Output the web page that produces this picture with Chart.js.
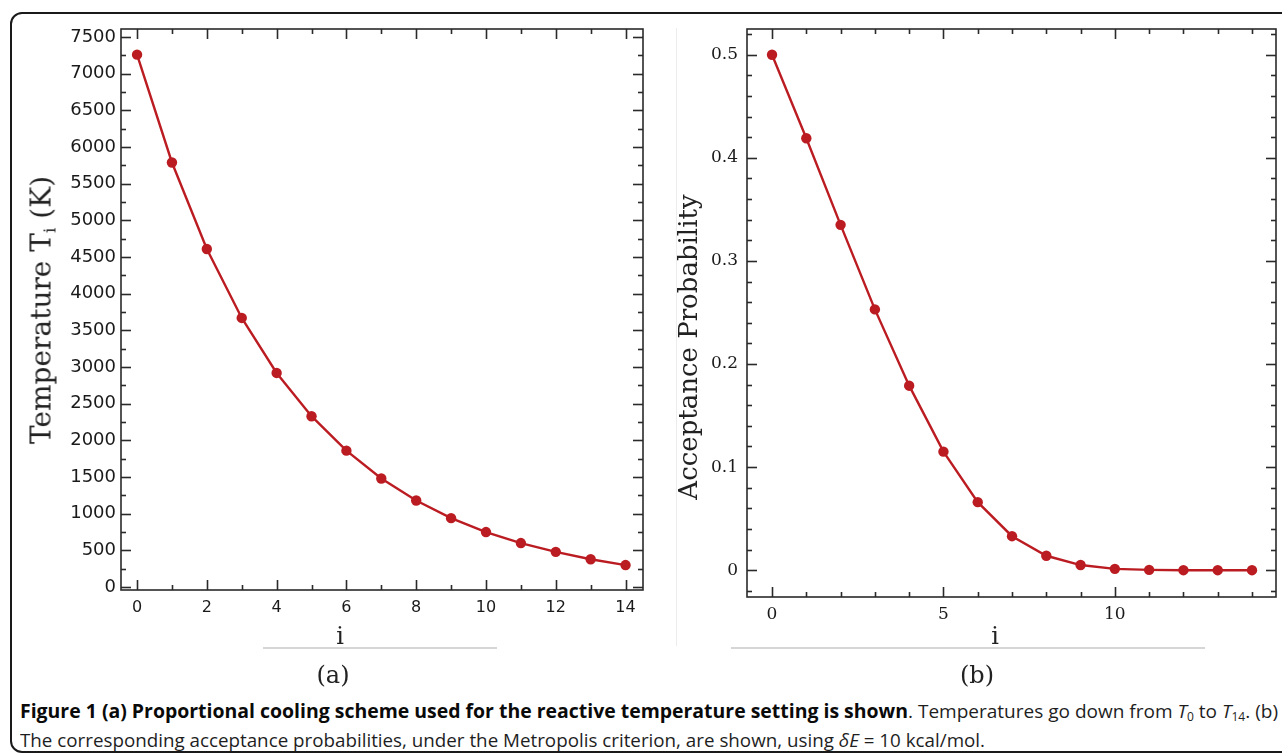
<!DOCTYPE html>
<html><head><meta charset="utf-8">
<script src="https://cdn.jsdelivr.net/npm/chart.js@4.4.0/dist/chart.umd.min.js"></script>
<style>
html,body{margin:0;padding:0;background:#fff;width:1282px;height:755px;overflow:hidden;position:relative;}
#frame{position:absolute;left:10px;top:12px;width:1320px;height:741px;border:2px solid #1a1a1a;border-radius:12px;box-sizing:border-box;}
canvas{position:absolute;}
.lbl{position:absolute;transform:translate(-50%,-50%);white-space:nowrap;font-family:"DejaVu Serif",serif;color:#222;line-height:1;}
.rot{transform:translate(-50%,-50%) rotate(-90deg);}
.hr{position:absolute;height:2px;background:#d6d6d6;}
.vr{position:absolute;width:1px;background:#ececec;}
.cap{position:absolute;white-space:nowrap;font-family:"Open Sans",sans-serif;font-size:19px;line-height:22px;color:#1e1e1e;transform-origin:0 50%;}
.cap sub{font-size:12px;vertical-align:-3px;line-height:0;}
.capb{font-weight:700;color:#0a0a0a;}
</style></head>
<body>
<div id="frame"></div>
<canvas id="cA" width="660" height="630" style="left:0;top:0"></canvas>
<canvas id="cB" width="622" height="640" style="left:660px;top:0"></canvas>
<div class="vr" style="left:676px;top:28px;height:618px"></div>
<div class="lbl rot" style="left:43px;top:310px;font-size:28px">Temperature T<sub style="font-size:17px;vertical-align:-5px">i</sub> (K)</div>
<div class="lbl rot" style="left:688px;top:347px;font-size:26px">Acceptance Probability</div>
<div class="lbl" style="left:340px;top:636px;font-size:24px">i</div>
<div class="lbl" style="left:995px;top:636px;font-size:24px">i</div>
<div class="hr" style="left:263px;top:647px;width:234px"></div>
<div class="hr" style="left:731px;top:647px;width:474px"></div>
<div class="lbl" style="left:333px;top:675px;font-size:24px">(a)</div>
<div class="lbl" style="left:977px;top:675px;font-size:24px">(b)</div>
<div class="cap capb" id="l1b" style="left:20px;top:700px">Figure 1 (a) Proportional cooling scheme used for the reactive temperature setting is shown</div>
<div class="cap" id="l1r" style="left:908px;top:700px">. Temperatures go down from <i>T</i><sub>0</sub> to <i>T</i><sub>14</sub>. (b)</div>
<div class="cap" id="l2r" style="left:20px;top:729px">The corresponding acceptance probabilities, under the Metropolis criterion, are shown, using <i>δE</i> = 10 kcal/mol.</div>
<script>
// ---- data ----
const steps = [0,1,2,3,4,5,6,7,8,9,10,11,12,13,14];
const temperature = [7260,5790,4610,3670,2920,2330,1860,1480,1180,940,750,600,480,380,300];
const acceptance = [0.500,0.419,0.335,0.253,0.179,0.115,0.066,0.033,0.014,0.005,0.0013,0.0003,0.0000,0.0000,0.0000];
const tempXTicks = [0,2,4,6,8,10,12,14];
const tempYTicks = [0,500,1000,1500,2000,2500,3000,3500,4000,4500,5000,5500,6000,6500,7000,7500];
const probXTicks = [0,5,10];
const probYTicks = [0,0.1,0.2,0.3,0.4,0.5];
const probYLabels = ['0','0.1','0.2','0.3','0.4','0.5'];

const RED = '#bb1c22';
const AX = '#2a2a2a';

function minorList(min, max, step){ const out=[]; const s=Math.ceil(min/step-1e-9); const e=Math.floor(max/step+1e-9); for(let k=s;k<=e;k++) out.push(k*step); return out; }

function boxTicks(opts){
  return {
    id:'boxTicks',
    beforeDatasetsDraw(chart){
      const {ctx, chartArea:a, scales:{x,y}} = chart;
      ctx.save();
      ctx.strokeStyle = AX; ctx.lineWidth = 1.6; ctx.lineCap='butt';
      const ln=(x1,y1,x2,y2)=>{ctx.beginPath();ctx.moveTo(x1,y1);ctx.lineTo(x2,y2);ctx.stroke();};
      const xm = minorList(x.min, x.max, opts.xMinor), ym = minorList(y.min, y.max, opts.yMinor);
      xm.forEach(v=>{ const major = Math.abs(v/opts.xMajor - Math.round(v/opts.xMajor))<1e-6; const L = major?10:5; const p=Math.round(x.getPixelForValue(v))+0.5; ln(p,a.bottom,p,a.bottom-L); ln(p,a.top,p,a.top+L); });
      ym.forEach(v=>{ const major = Math.abs(v/opts.yMajor - Math.round(v/opts.yMajor))<1e-6; const L = major?10:5; const p=Math.round(y.getPixelForValue(v))+0.5; ln(a.left,p,a.left+L,p); ln(a.right,p,a.right-L,p); });
      ctx.strokeRect(a.left,a.top,a.right-a.left,a.bottom-a.top);
      ctx.restore();
    }
  };
}

function baseScale(ticksArr, fixedSize, isX, font, pad, cb, min, max){
  return {
    type:'linear', min, max,
    afterBuildTicks: s=>{ s.ticks = ticksArr.map(v=>({value:v})); },
    afterFit: s=>{ if(isX) s.height=fixedSize; else s.width=fixedSize; },
    grid:{display:false, drawTicks:false},
    border:{display:false},
    ticks:{padding:pad, font, color:'#1a1a1a', callback:cb, maxRotation:0, autoSkip:false}
  };
}

const common = {
  responsive:false, animation:false, devicePixelRatio:1,
  plugins:{legend:{display:false}, tooltip:{enabled:false}}
};

new Chart(document.getElementById('cA'), {
  type:'line',
  data:{datasets:[{data:steps.map((s,i)=>({x:s,y:temperature[i]})), borderColor:RED, backgroundColor:RED, borderWidth:2.4, pointRadius:5.2, pointBorderWidth:0, tension:0}]},
  options:Object.assign({}, common, {
    layout:{padding:{top:29,right:17,left:0,bottom:0}},
    scales:{
      x: baseScale(tempXTicks, 40, true, {family:'DejaVu Sans', size:16}, 8, v=>String(v), -0.46, 14.5),
      y: baseScale(tempYTicks, 121, false, {family:'DejaVu Sans', size:18}, 5, v=>String(v), -40, 7610)
    }
  }),
  plugins:[boxTicks({xMinor:1,xMajor:2,yMinor:250,yMajor:500})]
});

new Chart(document.getElementById('cB'), {
  type:'line',
  data:{datasets:[{data:steps.map((s,i)=>({x:s,y:acceptance[i]})), borderColor:RED, backgroundColor:RED, borderWidth:2.4, pointRadius:5.2, pointBorderWidth:0, tension:0}]},
  options:Object.assign({}, common, {
    layout:{padding:{top:29,right:6,left:0,bottom:0}},
    scales:{
      x: baseScale(probXTicks, 43, true, {family:'DejaVu Serif', size:17}, 7, v=>String(v), -0.73, 14.7),
      y: baseScale(probYTicks, 87, false, {family:'DejaVu Serif', size:17}, 9, (v,i)=>probYLabels[i], -0.026, 0.525)
    }
  }),
  plugins:[boxTicks({xMinor:1,xMajor:5,yMinor:0.02,yMajor:0.1})]
});

// condense caption lines to the reference widths
function fit(id, target){ const el=document.getElementById(id); const w = el.getBoundingClientRect().width; el.style.transform = 'scaleX(' + (target/w) + ')'; }
fit('l1b', 888);
fit('l1r', 370);
fit('l2r', 965);
</script>
</body></html>
